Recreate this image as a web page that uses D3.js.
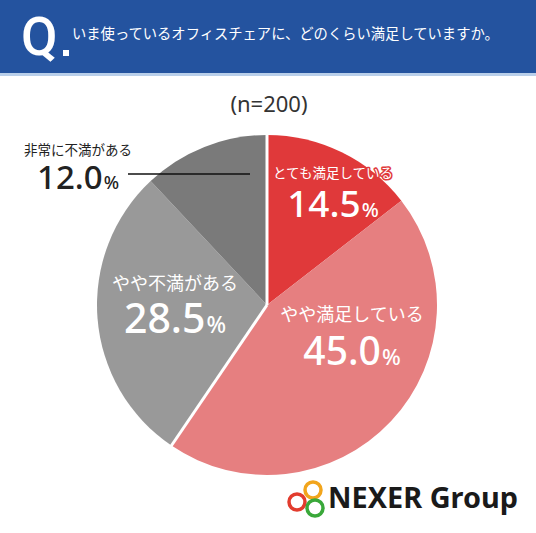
<!DOCTYPE html>
<html>
<head>
<meta charset="utf-8">
<script src="https://cdn.jsdelivr.net/npm/d3@7"></script>
<style>
  html, body { margin: 0; padding: 0; background: #fff; }
  svg { display: block; }
</style>
</head>
<body>
<div id="chart"></div>
<script>
const categories = ['とても満足している', 'やや満足している', 'やや不満がある', '非常に不満がある']
const values = [14.5, 45.0, 28.5, 12.0]
const groups = ['satisfied', 'satisfied', 'unsatisfied', 'unsatisfied']
const colors = ['#e0393a', '#e67f80', '#999999', '#7a7a7a']
const question = 'いま使っているオフィスチェアに、どのくらい満足していますか。'
const sampleLabel = '(n=200)'

const width = 536
const height = 533
const cx = 267
const cy = 305
const radius = 170
const font = '"Noto Sans CJK JP", "Noto Sans", sans-serif'
const numFont = '"Noto Sans", sans-serif'

const svg = d3.select('#chart').append('svg')
  .attr('width', width)
  .attr('height', height)

// header band
svg.append('rect')
  .attr('x', 0).attr('y', 0)
  .attr('width', width).attr('height', 73)
  .attr('fill', '#24539f')
svg.append('rect')
  .attr('x', 0).attr('y', 73)
  .attr('width', width).attr('height', 3)
  .attr('fill', '#b9cfea')

svg.append('text')
  .attr('x', 21).attr('y', 55)
  .attr('fill', '#fff')
  .attr('font-family', 'Roboto, sans-serif')
  .attr('font-size', 53)
  .attr('font-weight', 500)
  .text('Q')
svg.append('rect')
  .attr('x', 63).attr('y', 50)
  .attr('width', 6).attr('height', 6)
  .attr('fill', '#fff')

svg.append('text')
  .attr('x', 72).attr('y', 39)
  .attr('fill', '#fff')
  .attr('font-family', font)
  .attr('font-size', 14.3)
  .text(question)

svg.append('text')
  .attr('x', 269).attr('y', 112)
  .attr('text-anchor', 'middle')
  .attr('fill', '#333')
  .attr('font-family', numFont)
  .attr('font-size', 22)
  .text(sampleLabel)

// pie
const pie = d3.pie().sort(null).value(d => d)
const arcs = pie(values)
const arc = d3.arc().innerRadius(0).outerRadius(radius)

const g = svg.append('g').attr('transform', `translate(${cx},${cy})`)

g.selectAll('path')
  .data(arcs).enter()
  .append('path')
  .attr('d', arc)
  .attr('fill', (d, i) => colors[i])

// white separators only where the colour group changes
const breaks = arcs.filter((d, i) => groups[i] !== groups[(i + arcs.length - 1) % arcs.length])
  .map(d => d.startAngle)
g.selectAll('line.sep')
  .data(breaks).enter()
  .append('line')
  .attr('class', 'sep')
  .attr('x1', 0).attr('y1', 0)
  .attr('x2', a => Math.sin(a) * (radius + 2))
  .attr('y2', a => -Math.cos(a) * (radius + 2))
  .attr('stroke', '#fff')
  .attr('stroke-width', 3)

// labels
const fmt = d3.format('.1f')
const labelSpecs = [
  { x: 333, y1: 178, y2: 217, cat: 13.5, num: 37, pct: 20, fill: '#fff', outline: '#e0393a' },
  { x: 352, y1: 321, y2: 365, cat: 18, num: 39, pct: 22, fill: '#fff', outline: null },
  { x: 175, y1: 290, y2: 333, cat: 18, num: 41, pct: 23, fill: '#fff', outline: null },
  { x: 78, y1: 155, y2: 189, cat: 13.5, num: 33, pct: 18, fill: '#222', outline: null }
]

labelSpecs.forEach((s, i) => {
  const lg = svg.append('g')
  const t1 = lg.append('text')
    .attr('x', s.x).attr('y', s.y1)
    .attr('text-anchor', 'middle')
    .attr('font-family', font)
    .attr('font-size', s.cat)
    .attr('fill', s.fill)
    .text(categories[i])
  const t2 = lg.append('text')
    .attr('x', s.x).attr('y', s.y2)
    .attr('text-anchor', 'middle')
    .attr('font-family', numFont)
    .attr('font-size', s.num)
    .attr('font-weight', 500)
    .attr('fill', s.fill)
  t2.append('tspan').text(fmt(values[i]))
  t2.append('tspan').attr('font-size', s.pct).attr('dx', 1).text('%')
  if (s.outline) {
    [t1, t2].forEach(t => t
      .attr('stroke', s.outline)
      .attr('stroke-width', 3)
      .attr('stroke-linejoin', 'round')
      .attr('paint-order', 'stroke'))
  }
})

// leader line for the small slice
svg.append('line')
  .attr('x1', 128).attr('y1', 174)
  .attr('x2', 250).attr('y2', 174)
  .attr('stroke', '#111')
  .attr('stroke-width', 1.6)

// logo
const rings = [
  { x: 313, y: 490, c: '#f2a51c' },
  { x: 297, y: 502, c: '#e23c2e' },
  { x: 315, y: 508, c: '#3aa83a' }
]
svg.selectAll('circle.ring')
  .data(rings).enter()
  .append('circle')
  .attr('class', 'ring')
  .attr('cx', d => d.x).attr('cy', d => d.y)
  .attr('r', 8)
  .attr('fill', 'none')
  .attr('stroke', d => d.c)
  .attr('stroke-width', 3.5)

svg.append('text')
  .attr('x', 328).attr('y', 508)
  .attr('font-family', numFont)
  .attr('font-size', 28)
  .attr('font-weight', 700)
  .attr('fill', '#1a1a1a')
  .attr('textLength', 190)
  .attr('lengthAdjust', 'spacingAndGlyphs')
  .text('NEXER Group')
</script>
</body>
</html>
